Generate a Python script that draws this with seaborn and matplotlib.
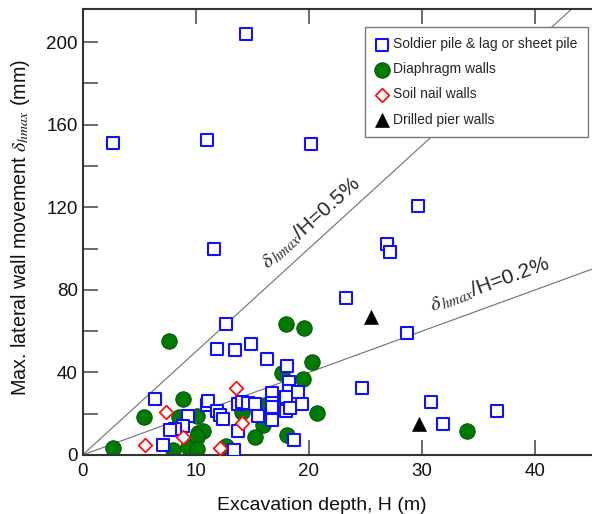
import numpy as np
import pandas as pd
import seaborn as sns
import matplotlib.pyplot as plt
from matplotlib.ticker import MultipleLocator

# excavation depth H (m) and max lateral movement (mm)
soldier_h = [2.7, 11.0, 14.4, 20.2, 11.6, 29.6, 26.9, 27.2, 23.3, 28.7, 24.7, 30.8, 31.8, 36.6,
             6.4, 9.3, 8.9, 8.2, 7.7, 7.1, 11.0, 11.1, 11.9, 12.1, 12.4, 13.7, 13.4, 13.7,
             14.1, 14.6, 15.2, 15.5, 12.7, 11.9, 13.5, 14.9, 16.3, 18.1, 18.2, 18.2, 16.7,
             19.0, 18.0, 19.4, 18.0, 18.3, 16.7, 16.7, 16.7, 18.7]
soldier_d = [151, 152.5, 204, 150.6, 99.8, 120.6, 102.2, 98.3, 76.0, 59.1, 32.4, 25.7, 15.0, 21.3,
             27.1, 18.9, 14.0, 12.6, 12.1, 4.8, 24.2, 26.2, 21.3, 19.4, 17.4, 11.6, 2.4, 24.7,
             25.7, 25.2, 24.7, 18.9, 63.4, 51.3, 50.8, 53.8, 46.5, 43.1, 35.4, 31.0, 30.0,
             30.5, 28.1, 24.7, 21.3, 22.8, 25.2, 23.2, 16.9, 7.3]

diaphragm_h = [7.6, 18.0, 19.6, 20.3, 17.6, 19.5, 20.7, 34.0, 8.9, 5.4, 8.5, 10.1, 14.1,
               16.1, 15.9, 15.2, 18.1, 2.7, 8.0, 9.3, 10.2, 10.6, 10.1, 10.1, 12.7]
diaphragm_d = [55.2, 63.4, 61.5, 45.0, 39.7, 36.8, 20.3, 11.6, 27.1, 18.4, 18.4, 18.9, 20.8,
               24.2, 14.5, 8.7, 9.7, 3.4, 2.4, 3.9, 10.7, 11.6, 8.7, 2.9, 4.4]

soilnail_h = [13.6, 7.4, 8.9, 5.5, 12.1, 14.1]
soilnail_d = [32.4, 20.8, 8.7, 4.8, 3.4, 15.5]

pier_h = [25.5, 29.7]
pier_d = [66.8, 15.0]

ratio_pct = [0.5, 0.2]   # delta_hmax / H in %
ratio_label_pos = [(20.1, 112.5, 42), (35.9, 82.8, 20)]

sns.set_style('ticks')
plt.rcParams['font.family'] = ['Liberation Sans', 'DejaVu Sans']
plt.rcParams['mathtext.fontset'] = 'stix'

fig = plt.figure(figsize=(5.92, 5.14), dpi=100)
ax = fig.add_axes([0.1394, 0.1148, 0.8606, 0.8677])

for r in ratio_pct:
    ax.axline((0, 0), slope=r * 10, color='#777777', lw=0.85, zorder=1)

soldier = pd.DataFrame({'H': soldier_h, 'd': soldier_d})
diaph = pd.DataFrame({'H': diaphragm_h, 'd': diaphragm_d})
nail = pd.DataFrame({'H': soilnail_h, 'd': soilnail_d})
pier = pd.DataFrame({'H': pier_h, 'd': pier_d})

sns.scatterplot(data=soldier, x='H', y='d', marker='s', s=64, facecolor='white',
                edgecolor='#1010ff', linewidth=1.5, label='Soldier pile & lag or sheet pile',
                ax=ax, zorder=3)
sns.scatterplot(data=diaph, x='H', y='d', marker='o', s=125, color='#007a00',
                edgecolor='#004800', linewidth=0.6, label='Diaphragm walls', ax=ax, zorder=2)
sns.scatterplot(data=nail, x='H', y='d', marker='D', s=48, facecolor='white',
                edgecolor='#ff1010', linewidth=1.3, label='Soil nail walls', ax=ax, zorder=3)
sns.scatterplot(data=pier, x='H', y='d', marker='^', s=100, color='black',
                edgecolor='black', linewidth=0.5, label='Drilled pier walls', ax=ax, zorder=3)

for (x, y, rot), r in zip(ratio_label_pos, ratio_pct):
    ax.text(x, y, r'$\delta_{\,hmax}$' + '/H=%.1f%%' % r, fontsize=15, rotation=rot,
            ha='center', va='center', zorder=4)

ax.set_xlim(0, 45)
ax.set_ylim(0, 216)
ax.xaxis.set_major_locator(MultipleLocator(10))
ax.yaxis.set_major_locator(MultipleLocator(40))
ax.yaxis.set_minor_locator(MultipleLocator(20))
ax.tick_params(axis='both', which='both', direction='in', length=11, width=1.1,
               color='#444444', labelsize=13.5, labelcolor='#111111', top=True, right=False)
ax.tick_params(axis='x', pad=6)
for side in ['left', 'bottom', 'top']:
    ax.spines[side].set_color('#333333')
    ax.spines[side].set_linewidth(1.5)
ax.spines['right'].set_visible(False)

ax.set_xlabel('Excavation depth, H (m)', fontsize=14, color='#111111')
ax.set_ylabel(r'Max. lateral wall movement $\delta_{hmax}$ (mm)', fontsize=14.2, color='#111111')
ax.xaxis.set_label_coords(0.47, -0.095)
ax.yaxis.set_label_coords(-0.099, 0.511)

leg = ax.legend(loc='upper right', bbox_to_anchor=(0.992, 0.96), borderaxespad=0,
                fancybox=False, framealpha=1, edgecolor='#777777', fontsize=10,
                labelspacing=0.8, handletextpad=0.35, borderpad=0.75, handlelength=0.9)
leg.get_frame().set_linewidth(1.0)
leg.set_zorder(5)

fig.savefig('out.png', dpi=100)
